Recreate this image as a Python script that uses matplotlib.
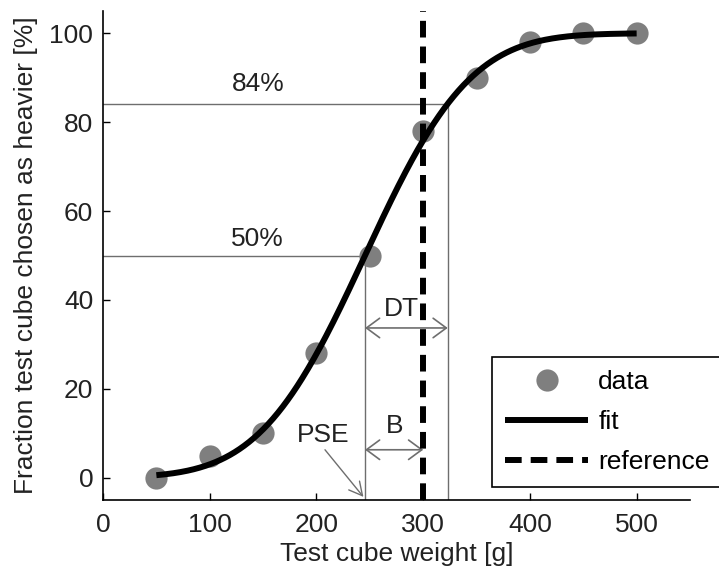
import math
import numpy as np
import matplotlib
matplotlib.use("Agg")
import matplotlib.pyplot as plt

plt.rcParams['font.family'] = ['Liberation Sans', 'DejaVu Sans']
plt.rcParams['lines.scale_dashes'] = False

# data
weights = [50, 100, 150, 200, 250, 300, 350, 400, 450, 500]
fraction_heavier = [0, 5, 10, 28, 50, 78, 90, 98, 100, 100]

# fit parameters (cumulative Gaussian)
pse = 245.5
sigma = 77.5
dt_84 = pse + sigma
reference_weight = 300

xticks = [0, 100, 200, 300, 400, 500]
yticks = [0, 20, 40, 60, 80, 100]

FS = 19
txt_color = '#222222'
gray_line = '#6e6e6e'

fig = plt.figure(figsize=(7.19, 5.73), dpi=100)
ax = fig.add_axes([103 / 719, 73 / 573, 587 / 719, 489 / 573])

xf = np.linspace(weights[0], weights[-1], 400)
yf = np.array([50 * (1 + math.erf((v - pse) / (sigma * math.sqrt(2)))) for v in xf])

# helper lines
ax.plot([0, pse], [50, 50], color=gray_line, lw=1.0, zorder=1)
ax.plot([pse, pse], [-5, 50], color=gray_line, lw=1.0, zorder=1)
ax.plot([0, dt_84], [84, 84], color=gray_line, lw=1.0, zorder=1)
ax.plot([dt_84, dt_84], [-5, 84], color=gray_line, lw=1.0, zorder=1)

ax.plot(weights, fraction_heavier, 'o', color='#7f7f7f', ms=16, mec='none',
        label='data', zorder=2)
ax.plot(xf, yf, color='black', lw=4.3, label='fit', zorder=3,
        solid_capstyle='butt')
ax.axvline(reference_weight, color='black', lw=4.3, ls=(0, (12, 6.5)),
           label='reference', zorder=4)

ax.text(145, 88.6, '84%', fontsize=FS, ha='center', va='center', color=txt_color)
ax.text(145, 53.7, '50%', fontsize=FS, ha='center', va='center', color=txt_color)

arrow_kw = dict(arrowstyle='<->,head_length=0.95,head_width=0.7', color=gray_line,
                lw=1.2, shrinkA=0, shrinkB=0, mutation_scale=10)
ax.annotate('', xy=(dt_84, 33.7), xytext=(pse, 33.7), arrowprops=arrow_kw)
ax.annotate('', xy=(reference_weight, 6.3), xytext=(pse, 6.3), arrowprops=arrow_kw)
ax.text(280, 37.9, 'DT', fontsize=FS, ha='center', va='center', color=txt_color)
ax.text(273.5, 11.7, 'B', fontsize=FS, ha='center', va='center', color=txt_color)
ax.text(206, 9.6, 'PSE', fontsize=FS, ha='center', va='center', color=txt_color)
ax.annotate('', xy=(pse - 1.5, -4.3), xytext=(208, 6.3),
            arrowprops=dict(arrowstyle='->,head_length=0.95,head_width=0.5',
                            color=gray_line, lw=1.0, shrinkA=0, shrinkB=0,
                            mutation_scale=10))

ax.set_xlim(0, 550)
ax.set_ylim(-5, 105)
ax.set_xticks(xticks)
ax.set_yticks(yticks)
ax.tick_params(direction='in', length=5, width=1, labelsize=FS,
               colors='black', labelcolor=txt_color)
ax.tick_params(axis='y', pad=7)
ax.tick_params(axis='x', pad=9)
for s in ['top', 'right']:
    ax.spines[s].set_visible(False)
for s in ['left', 'bottom']:
    ax.spines[s].set_linewidth(1.2)

ax.set_xlabel('Test cube weight [g]', fontsize=FS, color=txt_color, labelpad=4)
ax.set_ylabel('Fraction test cube chosen as heavier [%]', fontsize=FS,
              color=txt_color, labelpad=8)

leg = ax.legend(loc='upper left', bbox_to_anchor=(0.6627, 0.2924),
                borderaxespad=0, fontsize=FS, numpoints=1, handlelength=3.15,
                handletextpad=0.38, labelspacing=0.6, fancybox=False,
                framealpha=1, edgecolor='black', borderpad=0.5)
leg.get_frame().set_linewidth(1.2)

fig.savefig('out.png', dpi=100)
